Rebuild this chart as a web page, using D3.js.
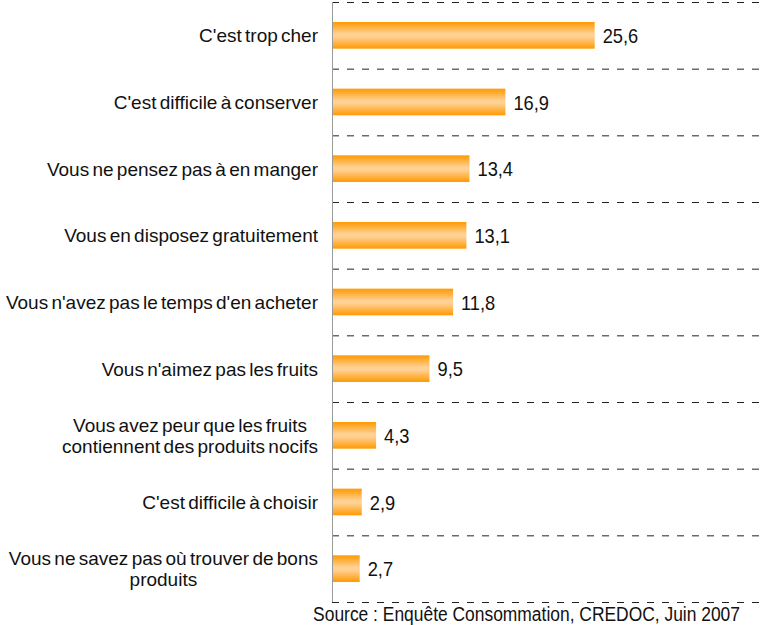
<!DOCTYPE html>
<html>
<head>
<meta charset="utf-8">
<script src="https://cdn.jsdelivr.net/npm/d3@7"></script>
<style>
  body { margin: 0; background: #fff; }
  svg { display: block; }
</style>
</head>
<body>
<script>
(function() {
    var w = 766;
    var h = 625;

    // data
    var categories = [
        "C'est trop cher",
        "C'est difficile à conserver",
        "Vous ne pensez pas à en manger",
        "Vous en disposez gratuitement",
        "Vous n'avez pas le temps d'en acheter",
        "Vous n'aimez pas les fruits",
        "Vous avez peur que les fruits\ncontiennent des produits nocifs",
        "C'est difficile à choisir",
        "Vous ne savez pas où trouver de bons\nproduits"
    ];
    var values = [25.6, 16.9, 13.4, 13.1, 11.8, 9.5, 4.3, 2.9, 2.7];
    var valueLabels = ["25,6", "16,9", "13,4", "13,1", "11,8", "9,5", "4,3", "2,9", "2,7"];
    var source = "Source : Enquête Consommation, CREDOC, Juin 2007";

    var labelFont = "'Liberation Sans', Arial, sans-serif";
    var narrow = 0.87; // no narrow font installed, squeeze horizontally

    var svg = d3.select("body").append("svg")
        .attr("width", w)
        .attr("height", h);

    var x = d3.scaleLinear().domain([0, 42.3]).range([332, 766]);
    var y = d3.scaleBand().domain(categories).range([2, 602]);

    var defs = svg.append("defs");
    var grad = defs.append("linearGradient")
        .attr("id", "barGrad")
        .attr("x1", 0).attr("y1", 0).attr("x2", 0).attr("y2", 1);
    grad.append("stop").attr("offset", "0%").attr("stop-color", "#ff9900");
    grad.append("stop").attr("offset", "45%").attr("stop-color", "#ffd194");
    grad.append("stop").attr("offset", "55%").attr("stop-color", "#ffd194");
    grad.append("stop").attr("offset", "100%").attr("stop-color", "#ff9900");

    // dashed separators between categories
    var lines = d3.range(categories.length + 1).map(function(i) {
        return y.range()[0] + i * y.step();
    });
    svg.selectAll("line.grid")
        .data(lines)
        .enter()
        .append("line")
        .attr("class", "grid")
        .attr("x1", x(0))
        .attr("x2", w)
        .attr("y1", function(d) { return d + 0.5; })
        .attr("y2", function(d) { return d + 0.5; })
        .attr("stroke", "#222")
        .attr("stroke-width", 1)
        .attr("stroke-dasharray", "7,8");

    // vertical axis line
    svg.append("line")
        .attr("x1", x(0) + 0.5).attr("x2", x(0) + 0.5)
        .attr("y1", y.range()[0]).attr("y2", y.range()[1])
        .attr("stroke", "#9a9a9a")
        .attr("stroke-width", 1);

    var barH = y.bandwidth() * 0.4;

    svg.selectAll("rect.bar")
        .data(values)
        .enter()
        .append("rect")
        .attr("class", "bar")
        .attr("x", x(0) + 1)
        .attr("y", function(d, i) { return y(categories[i]) + y.bandwidth() / 2 - barH / 2; })
        .attr("width", function(d) { return x(d) - x(0) - 1; })
        .attr("height", barH)
        .attr("fill", "url(#barGrad)");

    svg.selectAll("text.value")
        .data(values)
        .enter()
        .append("text")
        .attr("class", "value")
        .attr("transform", function(d, i) {
            return "translate(" + (x(d) + 8) + "," + (y(categories[i]) + y.bandwidth() / 2) + ") scale(" + narrow + ",1)";
        })
        .attr("dy", "0.36em")
        .attr("font-family", labelFont)
        .attr("font-size", 21)
        .attr("fill", "#111")
        .text(function(d, i) { return valueLabels[i]; });

    // category labels: single line right aligned, two lines centred on the widest
    var labelRight = 318;
    var lineH = 21;
    categories.forEach(function(c, i) {
        var parts = c.split("\n");
        var cy = y(c) + y.bandwidth() / 2;
        var g = svg.append("text")
            .attr("font-family", labelFont)
            .attr("font-size", 19)
            .attr("word-spacing", -2)
            .attr("fill", "#111");
        var spans = parts.map(function(p, j) {
            return g.append("tspan")
                .attr("y", cy + (j - (parts.length - 1) / 2) * lineH)
                .attr("dy", "0.36em")
                .text(p);
        });
        if (parts.length === 1) {
            g.attr("text-anchor", "end");
            spans[0].attr("x", labelRight);
        } else {
            var maxW = d3.max(spans, function(s) { return s.node().getComputedTextLength(); });
            g.attr("text-anchor", "middle");
            spans.forEach(function(s) { s.attr("x", labelRight - maxW / 2); });
        }
    });

    svg.append("text")
        .attr("transform", "translate(740,613) scale(" + 0.83 + ",1)")
        .attr("dy", "0.36em")
        .attr("text-anchor", "end")
        .attr("font-family", labelFont)
        .attr("font-size", 21)
        .attr("fill", "#111")
        .text(source);
})();
</script>
</body>
</html>
